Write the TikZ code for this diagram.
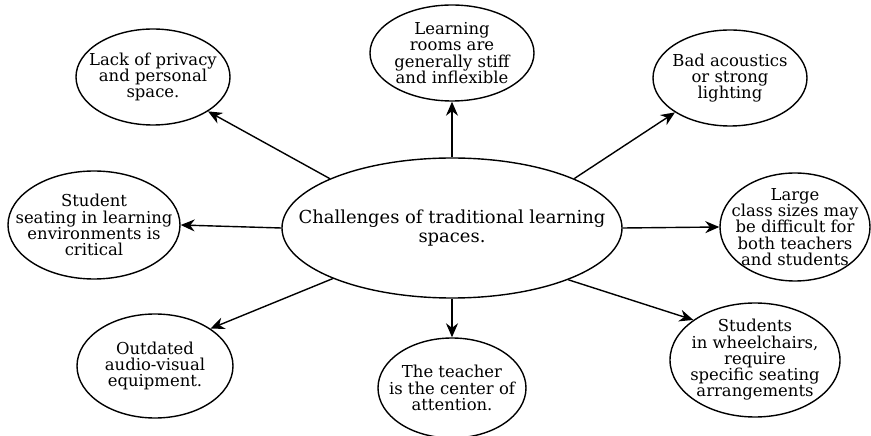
\documentclass[tikz,border=0pt]{standalone}
\usepackage{fontspec}
\setmainfont{DejaVu Serif}
\usetikzlibrary{shapes.geometric,arrows.meta}

\begin{document}
\begin{tikzpicture}[
    x=1bp, y=-1bp,
    defi/.style={draw, ellipse, line width=1.4bp, inner sep=-50bp, align=center,
                 font=\fontsize{16.5}{16.3}\selectfont},
    centre/.style={defi, minimum width=340bp, minimum height=140bp,
                   font=\fontsize{18}{19}\selectfont},
    fleche/.style={-{Stealth[length=14bp,width=12bp]}, line width=1.4bp}
]
    \useasboundingbox (0,0) rectangle (871,436);

    \node[centre] (ctr) at (452,228) {Challenges of traditional learning\\spaces.};

    % the eight challenges around it
    \node[defi, minimum width=164bp, minimum height=96bp] (rooms) at (452,53)
        {Learning\\rooms are\\generally stiff\\and inflexible};
    \node[defi, minimum width=154bp, minimum height=96bp] (privacy) at (153,77)
        {Lack of privacy\\and personal\\space.};
    \node[defi, minimum width=154bp, minimum height=96bp] (acoustics) at (730,78)
        {Bad acoustics\\or strong\\lighting};
    \node[defi, minimum width=172bp, minimum height=108bp] (seating) at (94,225)
        {Student\\seating in learning\\environments is\\critical};
    \node[defi, minimum width=150bp, minimum height=108bp] (classes) at (795,227)
        {Large\\class sizes may\\be difficult for\\both teachers\\and students};
    \node[defi, minimum width=156bp, minimum height=104bp] (equipment) at (155,366)
        {Outdated\\audio-visual\\equipment.};
    \node[defi, minimum width=148bp, minimum height=100bp] (teacher) at (452,388)
        {The teacher\\is the center of\\attention.};
    \node[defi, minimum width=170bp, minimum height=114bp] (wheelchairs) at (755,360)
        {Students\\in wheelchairs,\\require\\specific seating\\arrangements};

    \draw[fleche] (ctr.north) -- (rooms.south);
    \draw[fleche] (ctr.158) -- (privacy.-32);
    \draw[fleche] (ctr.22) -- (acoustics.-148);
    \draw[fleche] (ctr.west) -- (seating.east);
    \draw[fleche] (ctr.east) -- (classes.west);
    \draw[fleche] (ctr.203) -- (equipment.34);
    \draw[fleche] (ctr.south) -- (teacher.north);
    \draw[fleche] (ctr.-24) -- (wheelchairs.147);
\end{tikzpicture}
\end{document}
